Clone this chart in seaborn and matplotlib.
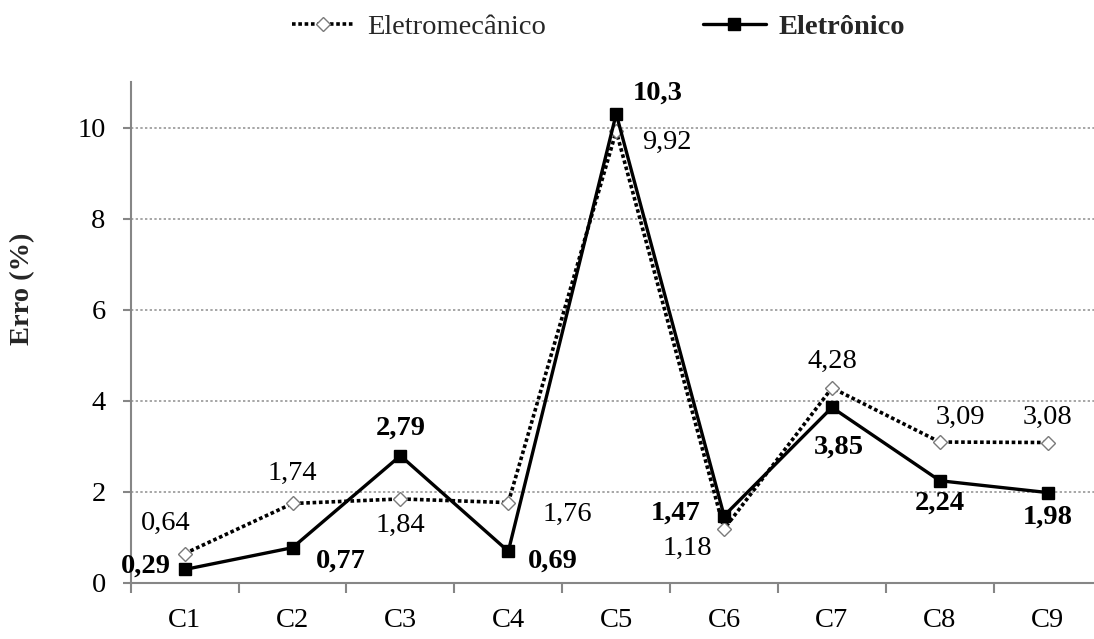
import matplotlib
matplotlib.use("Agg")
import matplotlib.pyplot as plt
from matplotlib.ticker import FixedLocator, NullFormatter
import seaborn as sns
import pandas as pd

# Data
categorias = ["C1", "C2", "C3", "C4", "C5", "C6", "C7", "C8", "C9"]
eletromecanico = [0.64, 1.74, 1.84, 1.76, 9.92, 1.18, 4.28, 3.09, 3.08]
eletronico = [0.29, 0.77, 2.79, 0.69, 10.3, 1.47, 3.85, 2.24, 1.98]
y_ticks = [0, 2, 4, 6, 8, 10]

sns.set_theme(style="white")
plt.rcParams["font.family"] = ["Liberation Serif", "DejaVu Serif"]

FS = 20.5
GRAY = "#868686"

df_mec = pd.DataFrame({"Categoria": categorias, "Erro": eletromecanico})
df_ele = pd.DataFrame({"Categoria": categorias, "Erro": eletronico})

fig = plt.figure(figsize=(10.94, 6.39), dpi=100)
ax = fig.add_axes([130.7 / 1094, 56.3 / 639, 971 / 1094, 500.7 / 639])

sns.lineplot(data=df_mec, x="Categoria", y="Erro", ax=ax, sort=False,
             errorbar=None, color="black", linewidth=2.6,
             linestyle=(0, (1.0, 0.75)), marker="D", markersize=7.5,
             markerfacecolor="white", markeredgecolor="#7a7a7a",
             markeredgewidth=1.0, label="Eletromecânico", legend=False,
             zorder=3)
sns.lineplot(data=df_ele, x="Categoria", y="Erro", ax=ax, sort=False,
             errorbar=None, color="black", linewidth=2.4, linestyle="-",
             marker="s", markersize=8, markerfacecolor="black",
             markeredgecolor="black", markeredgewidth=1.0,
             label="Eletrônico", legend=False, zorder=4)

ax.set_xlim(-0.5, len(categorias) - 0.5)
ax.set_ylim(0, 11)
ax.set_yticks(y_ticks)
ax.set_yticklabels([str(t) for t in y_ticks])
ax.set_xticks(range(len(categorias)))
ax.set_xticklabels(categorias)
ax.xaxis.set_minor_locator(FixedLocator([i + 0.5 for i in range(-1, len(categorias))]))
ax.xaxis.set_minor_formatter(NullFormatter())

ax.tick_params(axis="x", which="major", length=0, pad=18, labelsize=FS,
               labelcolor="black")
ax.tick_params(axis="x", which="minor", length=7, width=1.5, color=GRAY,
               direction="out", bottom=True)
ax.tick_params(axis="y", which="major", length=6, width=1.5, color=GRAY,
               direction="out", left=True, pad=12, labelsize=FS,
               labelcolor="black")

for side in ("top", "right"):
    ax.spines[side].set_visible(False)
for side in ("left", "bottom"):
    ax.spines[side].set_color(GRAY)
    ax.spines[side].set_linewidth(1.5)

for t in y_ticks[1:]:
    ax.axhline(t, color="#a6a6a6", linewidth=1.4, linestyle=(0, (1.2, 1.2)),
               zorder=1)

ax.set_xlabel("")
ax.set_ylabel("Erro (%)", fontsize=FS, fontweight="bold")
ax.yaxis.set_label_coords((23 - 130.7) / 971, (582.7 - 289) / 500.7)
ax.yaxis.label.set_verticalalignment("center")
ax.yaxis.label.set_horizontalalignment("center")

# Data labels (offsets in pixels)
off_mec = [(-19, 30), (0, 30), (0, -26), (59, -12), (51, -11),
           (-37, -19), (0, 26), (21, 25), (0, 25)]
off_ele = [(-39, 3), (48, -14), (0, 28), (45, -10), (41, 21),
           (-48, 3), (7, -40), (0, -22), (0, -25)]

def fmt(v):
    return f"{v:g}".replace(".", ",")

for i, (v, off) in enumerate(zip(eletromecanico, off_mec)):
    ax.annotate(fmt(v), xy=(i, v), xytext=off, textcoords="offset pixels",
                ha="center", va="center", fontsize=FS, color="black",
                zorder=5)
for i, (v, off) in enumerate(zip(eletronico, off_ele)):
    ax.annotate(fmt(v), xy=(i, v), xytext=off, textcoords="offset pixels",
                ha="center", va="center", fontsize=FS, fontweight="bold",
                color="black", zorder=5)

handles = ax.get_lines()[:2]
leg = fig.legend(handles, ["Eletromecânico", "Eletrônico"],
                 loc="center", bbox_to_anchor=(0.547, 0.958), ncol=2,
                 frameon=False, fontsize=FS, handlelength=2.2,
                 handletextpad=0.45, columnspacing=5.5)
leg.get_texts()[1].set_fontweight("bold")

fig.savefig("out.png", dpi=100)
